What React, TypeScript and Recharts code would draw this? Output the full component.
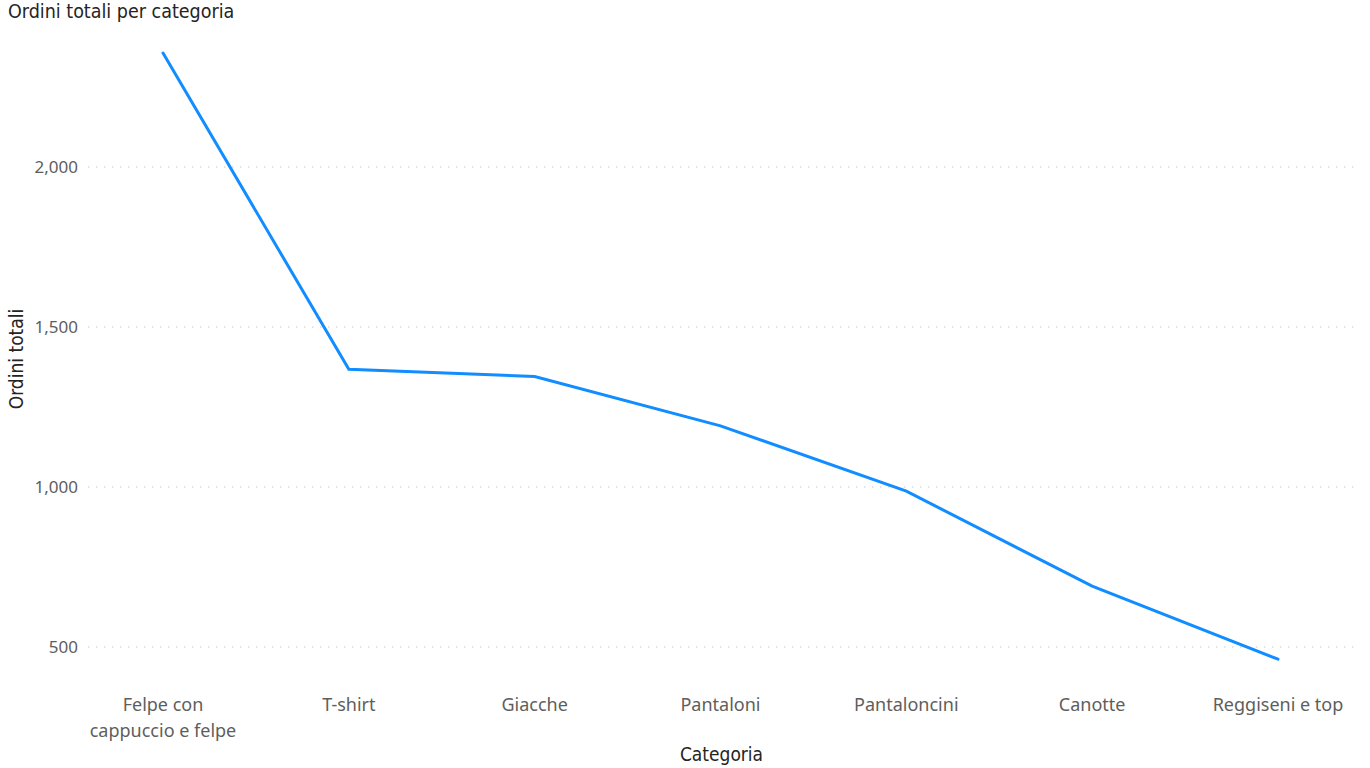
import React from "react";
import { LineChart, Line, XAxis, YAxis, CartesianGrid } from "recharts";

const categories = [
  "Felpe con cappuccio e felpe",
  "T-shirt",
  "Giacche",
  "Pantaloni",
  "Pantaloncini",
  "Canotte",
  "Reggiseni e top",
];
const orders = [2356, 1368, 1345, 1191, 987, 690, 462];
const yTicks = [500, 1000, 1500, 2000];

const data = categories.map((c, i) => ({ categoria: c, ordini: orders[i] }));

const tickFont = "'Segoe UI', 'Noto Sans', sans-serif";
const titleFont = "'DejaVu Sans Condensed', 'Noto Sans', sans-serif";

// break long labels into lines of at most ~17 chars
function wrap(label: string, max = 17) {
  const lines: string[] = [];
  let cur = "";
  for (const w of label.split(" ")) {
    const next = cur ? cur + " " + w : w;
    if (next.length > max && cur) {
      lines.push(cur);
      cur = w;
    } else cur = next;
  }
  if (cur) lines.push(cur);
  return lines;
}

const CategoryTick = (props: any) => {
  const { x, y, payload } = props;
  const lines = wrap(payload.value);
  return (
    <g>
      {lines.map((l, i) => (
        <text
          key={i}
          x={x}
          y={y + 24 + i * 26}
          textAnchor="middle"
          fill="#605E5C"
          fontSize={18}
          fontFamily={tickFont}
        >
          {l}
        </text>
      ))}
    </g>
  );
};

export default function App() {
  return (
    <div
      style={{
        position: "absolute",
        left: 0,
        top: 0,
        width: 1370,
        height: 768,
        background: "#fff",
      }}
    >
      <div
        style={{
          position: "absolute",
          left: 8,
          top: 0,
          fontFamily: titleFont,
          fontSize: 19.5,
          color: "#252423",
          lineHeight: "24px",
        }}
      >
        Ordini totali per categoria
      </div>
      <LineChart
        width={1370}
        height={768}
        data={data}
        margin={{ top: 39, right: 15, bottom: 0, left: 0 }}
      >
        <CartesianGrid
          vertical={false}
          horizontalValues={yTicks}
          stroke="#C8C8C8"
          strokeDasharray="1.5 6.5"
        />
        <XAxis
          dataKey="categoria"
          axisLine={false}
          tickLine={false}
          height={89}
          padding={{ left: 75, right: 77 }}
          interval={0}
          tick={<CategoryTick />}
          label={{
            value: "Categoria",
            position: "insideBottom",
            offset: 7,
            fill: "#252423",
            fontSize: 19,
            fontFamily: titleFont,
          }}
        />
        <YAxis
          width={88}
          domain={[400, 2400]}
          ticks={yTicks}
          axisLine={false}
          tickLine={false}
          tickSize={0}
          tickMargin={10}
          tickFormatter={(v: number) => v.toLocaleString("en-US")}
          tick={{ fill: "#605E5C", fontSize: 17, fontFamily: tickFont }}
          label={{
            value: "Ordini totali",
            angle: -90,
            position: "insideLeft",
            offset: 16,
            fill: "#252423",
            fontSize: 19,
            fontFamily: titleFont,
            style: { textAnchor: "middle" },
          }}
        />
        <Line
          type="linear"
          dataKey="ordini"
          stroke="#118DFF"
          strokeWidth={3}
          dot={false}
          activeDot={false}
          strokeLinecap="round"
          isAnimationActive={false}
        />
      </LineChart>
    </div>
  );
}
